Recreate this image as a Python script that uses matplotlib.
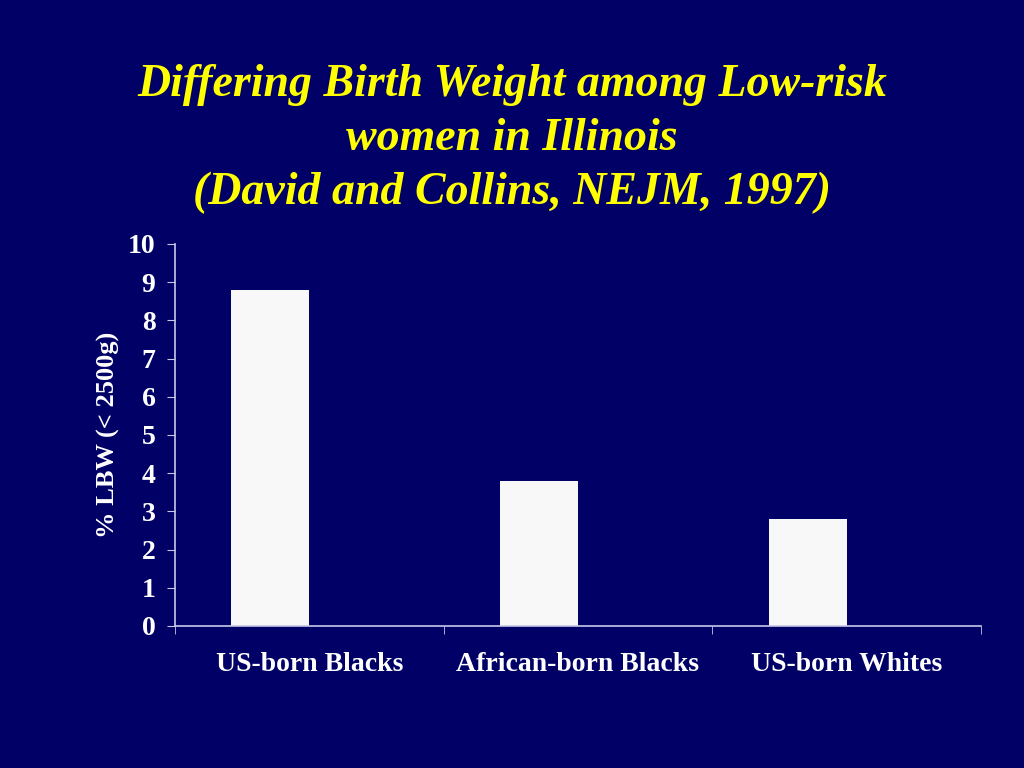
import matplotlib.pyplot as plt
import numpy as np

categories = ['US-born Blacks', 'African-born Blacks', 'US-born Whites']
lbw_pct = [8.8, 3.8, 2.8]

bg = '#000066'
fg = '#ffffff'
plt.rcParams['font.family'] = ['Liberation Serif', 'DejaVu Serif']
plt.rcParams['font.weight'] = 'bold'

fig = plt.figure(figsize=(10.24, 7.68), dpi=100, facecolor=bg)
ax = fig.add_axes([0.1709, 0.1849, 0.787, 0.4974], facecolor=bg)

x = np.arange(len(categories))
# bars sit left of the category centre, right edge on the centre
ax.bar(x, lbw_pct, width=-0.29, align='edge', color='#f8f8f8', edgecolor='none')

ax.set_xlim(-0.5, len(categories) - 0.5)
ax.set_ylim(0, 10)
ax.set_yticks(range(0, 11))
ax.set_xticks(x)
ax.set_xticklabels(categories, fontsize=20, color=fg, fontweight='bold')
ax.set_xticks(np.arange(-0.5, len(categories)), minor=True)
ax.tick_params(axis='x', which='major', length=0, pad=19)
ax.tick_params(axis='x', which='minor', length=6, color='#c8c8e8', direction='out')
ax.tick_params(axis='y', length=6, color='#c8c8e8', labelsize=20, labelcolor=fg, pad=8)
for lab in ax.get_yticklabels():
    lab.set_fontweight('bold')

for s in ['top', 'right']:
    ax.spines[s].set_visible(False)
for s in ['left', 'bottom']:
    ax.spines[s].set_color('#c8c8e8')
    ax.spines[s].set_linewidth(1.2)

ax.set_ylabel('% LBW (< 2500g)', fontsize=19, color=fg, fontweight='bold', labelpad=6)

fig.text(0.5, 0.819, 'Differing Birth Weight among Low-risk\nwomen in Illinois\n(David and Collins, NEJM, 1997)',
         ha='center', va='center', color='#ffff00', fontsize=33, fontweight='bold',
         fontstyle='italic', linespacing=1.38)

plt.savefig('out.png', dpi=100, facecolor=bg)
